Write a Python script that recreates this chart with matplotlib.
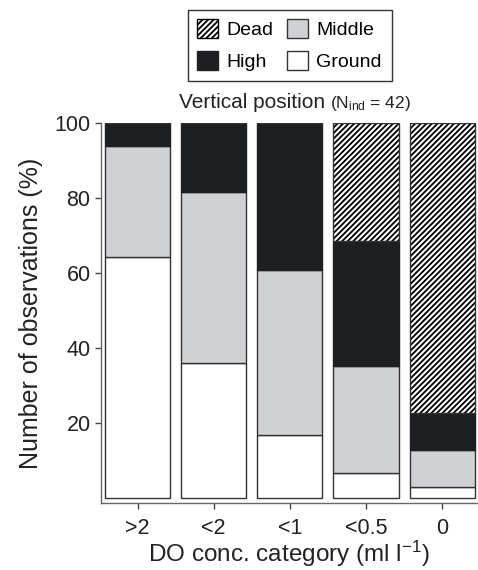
import numpy as np
import matplotlib
matplotlib.use("Agg")
import matplotlib.pyplot as plt
from matplotlib.patches import Patch

plt.rcParams['font.family'] = ['Liberation Sans', 'DejaVu Sans']
plt.rcParams['mathtext.fontset'] = 'custom'
plt.rcParams['mathtext.rm'] = 'Liberation Sans'
plt.rcParams['mathtext.it'] = 'Liberation Sans:italic'
plt.rcParams['hatch.linewidth'] = 1.3

categories = ['>2', '<2', '<1', '<0.5', '0']
# percentages per position class, stacked bottom to top
ground = [64.3, 36.0, 16.8, 6.5, 2.9]
middle = [29.6, 45.6, 44.0, 28.7, 9.9]
high = [6.1, 18.4, 39.2, 33.5, 9.9]
dead = [0.0, 0.0, 0.0, 31.3, 77.3]

col_high = '#1e1f22'
col_mid = '#d0d1d5'
edge = '#333333'

fig = plt.figure(figsize=(4.78, 5.70), dpi=100)
ax = fig.add_axes([0.2113, 0.1181, 0.7887, 0.6656])

x = np.arange(len(categories))
w = 0.855
b = np.zeros(len(categories))
ax.bar(x, ground, w, bottom=b, color='white', edgecolor=edge, linewidth=1)
b += ground
ax.bar(x, middle, w, bottom=b, color=col_mid, edgecolor=edge, linewidth=1)
b += middle
ax.bar(x, high, w, bottom=b, color=col_high, edgecolor=col_high, linewidth=1)
b += high
ax.bar(x, dead, w, bottom=b, color='white', edgecolor='black', hatch='//////', linewidth=0)
ax.bar(x, dead, w, bottom=b, fill=False, edgecolor=edge, linewidth=1)

ax.set_xlim(-0.48, 4.47)
ax.set_ylim(-1.3, 100)
ax.set_yticks([20, 40, 60, 80, 100])
ax.set_xticks(x)
ax.set_xticklabels(categories)
for s in ['top', 'right']:
    ax.spines[s].set_visible(False)
for s in ['left', 'bottom']:
    ax.spines[s].set_color('#666666')
    ax.spines[s].set_linewidth(1)
ax.tick_params(axis='both', direction='out', length=4, width=1, color='#444444',
               labelsize=15.5, colors='#222222')
ax.tick_params(axis='x', pad=7)
ax.set_ylabel('Number of observations (%)', fontsize=18, color='#222222', labelpad=8)
ax.set_xlabel('DO conc. category (ml l$^{-1}$)', fontsize=17.5, color='#222222', labelpad=0)

fig.text(0.680, 0.8105, 'Vertical position', fontsize=15, ha='right', va='baseline', color='#222222')
fig.text(0.690, 0.8105, '(N$_{\\mathrm{ind}}$ = 42)', fontsize=12.5, ha='left', va='baseline', color='#222222')

handles = [Patch(facecolor='white', edgecolor='black', hatch='//////', label='Dead'),
           Patch(facecolor=col_high, edgecolor=col_high, label='High'),
           Patch(facecolor=col_mid, edgecolor=edge, label='Middle'),
           Patch(facecolor='white', edgecolor=edge, label='Ground')]
leg = fig.legend(handles=handles, ncol=2, loc='upper center', bbox_to_anchor=(0.606, 1.0),
                 fontsize=14, frameon=True, fancybox=False, edgecolor='black',
                 handlelength=1.05, handleheight=1.1, columnspacing=0.7, handletextpad=0.45,
                 borderpad=0.5, labelspacing=0.6)
leg.get_frame().set_linewidth(1)

fig.savefig('out.png', dpi=100)
